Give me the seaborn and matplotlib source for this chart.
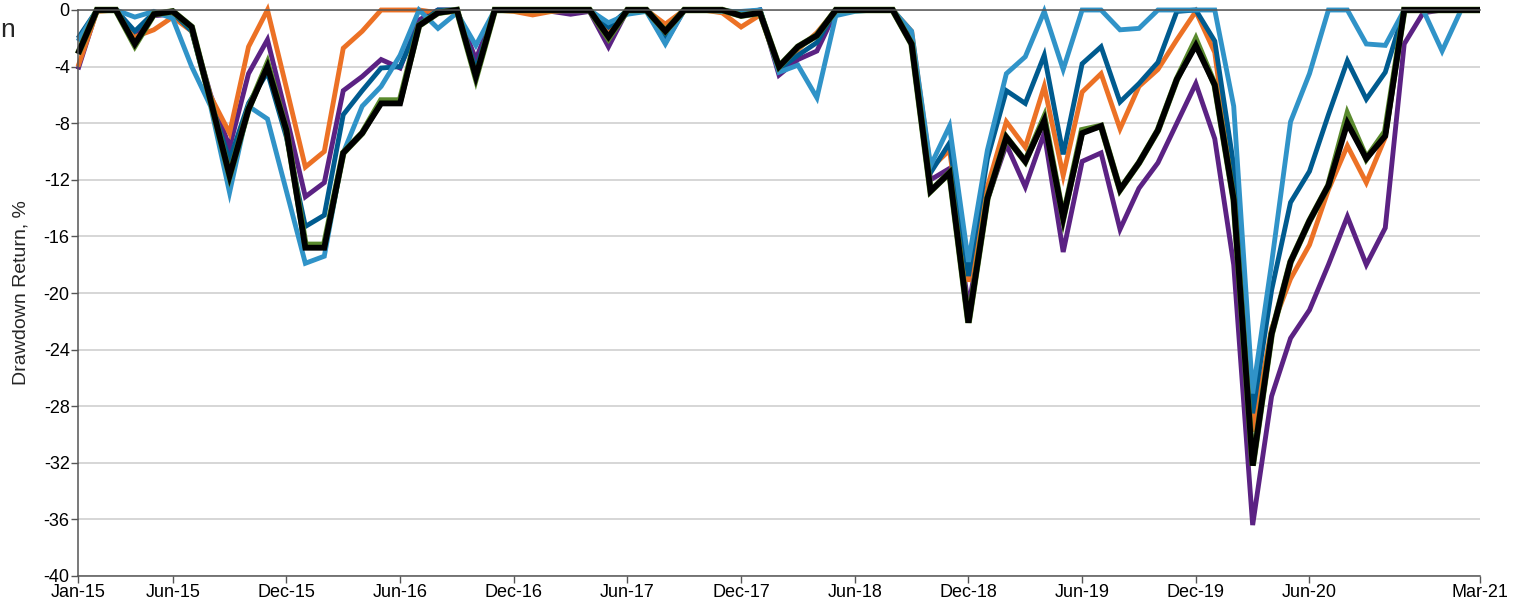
import matplotlib
matplotlib.use("Agg")
import matplotlib.pyplot as plt
import seaborn as sns
import pandas as pd
import numpy as np

# monthly points, Jan-15 .. Mar-21
months = pd.date_range("2015-01-01", "2021-03-01", freq="MS")
tick_labels = ["Jan-15", "Jun-15", "Dec-15", "Jun-16", "Dec-16", "Jun-17", "Dec-17",
               "Jun-18", "Dec-18", "Jun-19", "Dec-19", "Jun-20", "Mar-21"]
tick_months = ["2015-01", "2015-06", "2015-12", "2016-06", "2016-12", "2017-06", "2017-12",
               "2018-06", "2018-12", "2019-06", "2019-12", "2020-06", "2021-03"]

light_blue = [-2.2, 0, 0, -0.5, -0.1, -0.6, -4.0, -6.8, -12.9, -6.8,
              -7.7, -12.8, -17.9, -17.4, -10.1, -6.8, -5.4, -3.2, 0, -1.3,
              -0.2, -2.5, 0, 0, 0, 0, 0, 0, -0.9, -0.3,
              -0.1, -2.4, 0, 0, -0.1, -0.1, 0, -4.4, -3.9, -6.2,
              -0.4, -0.1, 0, 0, -1.5, -11.0, -8.2, -17.8, -9.9, -4.5,
              -3.3, -0.1, -4.2, 0, 0, -1.4, -1.3, 0, 0, 0,
              0, -6.8, -27.1, -17.9, -7.9, -4.5, 0, 0, -2.4, -2.5,
              0, 0, -2.9, 0, 0]
dark_blue = [-2.0, 0, 0, -1.5, -0.2, -0.2, -1.5, -6.5, -10.6, -6.6,
             -4.4, -9.0, -15.3, -14.5, -7.4, -5.7, -4.1, -4.0, -1.0, 0,
             0, -4.2, 0, 0, 0, 0, 0, 0, -1.2, 0,
             0, -1.8, 0, 0, 0, -0.2, 0, -4.2, -3.2, -2.3,
             0, 0, 0, 0, -1.8, -11.5, -9.4, -18.8, -10.5, -5.7,
             -6.6, -3.2, -10.2, -3.8, -2.6, -6.5, -5.2, -3.7, -0.1, 0,
             -2.2, -11.0, -28.5, -19.8, -13.6, -11.4, -7.4, -3.6, -6.3, -4.4,
             0, 0, 0, 0, 0]
orange = [-4.0, -0.1, 0, -1.9, -1.4, -0.5, -1.5, -6.1, -8.7, -2.6,
          0, -5.5, -11.1, -10.0, -2.7, -1.5, 0, 0, 0, -0.2,
          -0.1, -4.4, 0, -0.1, -0.35, -0.1, 0, 0, -1.3, 0,
          0, -1.0, 0, 0, -0.2, -1.2, -0.35, -4.1, -2.8, -1.6,
          0, 0, 0, 0, -1.5, -11.2, -9.9, -19.2, -12.5, -7.9,
          -9.7, -5.4, -11.7, -5.8, -4.5, -8.4, -5.4, -4.2, -2.1, -0.1,
          -3.0, -13.0, -29.8, -22.5, -19.0, -16.6, -12.7, -9.6, -12.2, -9.0,
          0, 0, 0, 0, 0]
purple = [-4.2, 0, 0, -2.0, -0.4, -0.3, -1.3, -6.0, -9.7, -4.5,
          -2.1, -7.5, -13.2, -12.2, -5.7, -4.7, -3.5, -4.1, -0.7, 0,
          0, -3.5, 0, 0, 0, -0.1, -0.3, -0.1, -2.6, 0,
          0, -2.3, 0, 0, 0, -0.3, 0, -4.6, -3.5, -2.9,
          -0.1, 0, 0, 0, -2.0, -12.0, -11.2, -21.0, -13.4, -9.5,
          -12.5, -8.7, -17.1, -10.7, -10.1, -15.5, -12.6, -10.8, -8.0, -5.2,
          -9.1, -18.0, -36.4, -27.3, -23.2, -21.2, -18.0, -14.6, -18.0, -15.4,
          -2.4, -0.2, 0, 0, 0]
green = [-3.1, 0, 0, -2.5, -0.3, -0.1, -1.2, -6.4, -11.7, -7.0,
         -3.8, -8.5, -16.6, -16.6, -10.1, -8.7, -6.4, -6.4, -1.1, -0.2,
         0, -4.8, 0, 0, 0, 0, 0, 0, -2.0, 0,
         0, -1.5, 0, 0, 0, -0.4, -0.2, -4.0, -2.6, -1.8,
         0, 0, 0, 0, -2.4, -12.8, -11.5, -22.1, -13.3, -9.0,
         -10.7, -7.6, -14.7, -8.5, -8.2, -12.7, -10.8, -8.5, -4.9, -2.1,
         -5.3, -13.4, -32.2, -22.9, -17.8, -14.9, -12.4, -7.4, -10.5, -8.6,
         0, 0, 0, 0, 0]
black = [-3.1, 0, 0, -2.4, -0.3, -0.1, -1.2, -6.4, -11.7, -7.0,
         -4.0, -8.5, -16.8, -16.8, -10.1, -8.7, -6.6, -6.6, -1.1, -0.2,
         0, -4.7, 0, 0, 0, 0, 0, 0, -1.9, 0,
         0, -1.5, 0, 0, 0, -0.4, -0.2, -4.0, -2.6, -1.8,
         0, 0, 0, 0, -2.4, -12.8, -11.5, -22.1, -13.3, -9.0,
         -10.7, -7.8, -14.7, -8.7, -8.2, -12.7, -10.8, -8.5, -4.9, -2.5,
         -5.3, -13.4, -32.2, -22.9, -17.8, -14.9, -12.4, -8.0, -10.5, -8.9,
         0, 0, 0, 0, 0]

# draw order: first one at the bottom
series = [
    ("Series 4", purple, "#5B2283", 3.5),
    ("Series 3", orange, "#EC7125", 3.5),
    ("Series 2", dark_blue, "#005B8F", 3.5),
    ("Series 1", light_blue, "#3093C8", 3.5),
    ("Series 5", green, "#5A8A2E", 4.7),
    ("Series 6", black, "#000000", 4.2),
]

sns.set_style("white")
plt.rcParams["font.family"] = ["Liberation Sans", "DejaVu Sans"]

fig = plt.figure(figsize=(15.2, 6.05), dpi=100)
ax = fig.add_axes([78 / 1520, 29 / 605, 1402 / 1520, 566 / 605])

idx = np.arange(len(months))
for name, vals, col, lw in series:
    df = pd.DataFrame({"month": idx, "drawdown": vals})
    sns.lineplot(data=df, x="month", y="drawdown", color=col, linewidth=lw,
                 ax=ax, clip_on=False, solid_joinstyle="miter",
                 solid_capstyle="butt")

tick_pos = [months.get_loc(pd.Timestamp(m + "-01")) for m in tick_months]
ax.set_xticks(tick_pos)
ax.set_xticklabels(tick_labels)
ax.set_xlim(0, len(months) - 1)
ax.set_ylim(-40, 0)
ax.set_yticks(np.arange(-40, 1, 4))
ax.set_yticklabels([str(v) for v in range(-40, 1, 4)])

ax.grid(axis="y", color="#cfcfcf", linewidth=1.2)
ax.set_axisbelow(True)
for side in ["left", "bottom", "top"]:
    ax.spines[side].set_visible(True)
    ax.spines[side].set_color("#555555")
    ax.spines[side].set_linewidth(1.1)
ax.spines["right"].set_visible(False)

ax.tick_params(axis="both", which="major", labelsize=13, length=5, width=1,
               color="#555555", labelcolor="#000000", direction="out",
               bottom=True, left=True, pad=1)
ax.set_xlabel("")
ax.set_ylabel("Drawdown Return, %", fontsize=14, labelpad=10)

# fragment of a label at the very left edge of the picture
fig.text(0, 1 - 30 / 605, "n", ha="left", va="center", fontsize=19)

fig.savefig("out.png", dpi=100)
